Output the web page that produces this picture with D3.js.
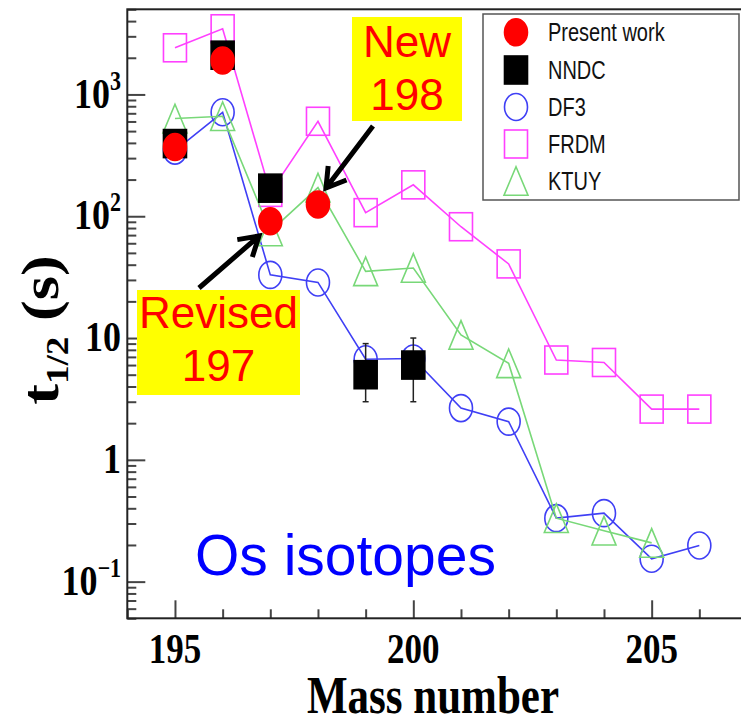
<!DOCTYPE html>
<html><head><meta charset="utf-8">
<script src="https://cdn.jsdelivr.net/npm/d3@7"></script>
<style>body{margin:0;background:#fff;overflow:hidden}</style>
</head><body><svg id="c" width="741" height="725"></svg>
<script>
// ---- data ----
const massNumbers = [195,196,197,198,199,200,201,202,203,204,205,206];
const presentWorkA = [195,196,197,198];
const presentWorkT = [370,1900,91,125];
const nndcA = [195,196,197,199,200];
const nndcT = [395,2100,170,5,6];
const nndcLo = [null,null,null,3,3];
const nndcHi = [null,null,null,9,10];
const df3T  = [346,714,33,28.6,6.7,6.8,2.66,2.06,0.332,0.365,0.154,0.198];
const frdmT = [2415,3460,157,602,107,181,82,40.6,6.6,6.3,2.61,2.61];
const ktuyA = [195,196,197,198,199,200,201,202,203,204,205];
const ktuyT = [634,662,75,172,35.3,37.6,10.6,6.2,0.332,0.262,0.208];
const xMajorTicks = [195,200,205];
const yMajorTicks = [0.1,1,10,100,1000];
const yTickLabels = [["10","\u22121"],["1",null],["10",null],["10","2"],["10","3"]];
const legendLabels = ["Present work","NNDC","DF3","FRDM","KTUY"];

// ---- setup ----
const svg = d3.select("#c");
const L=127.3, R=747, T=9.3, B=618.3;
const x = d3.scaleLinear().domain([194,207]).range([L,R]);
const y = d3.scaleLog().domain([0.05,5000]).range([B,T]);
const colDF3="#3f3ff5", colFRDM="#ff40ff", colKTUY="#78d878";
const SY=1.2;

// minor ticks
const yMinor=[];
for(let e=-2;e<=3;e++) for(let m=2;m<=9;m++){const v=m*Math.pow(10,e); if(v>=0.05&&v<=5000) yMinor.push(v);}
const xMinor = d3.range(194,208).filter(v=>!xMajorTicks.includes(v));

function styleAxis(g){g.select(".domain").remove(); g.selectAll("line").attr("stroke","#444").attr("stroke-width",2); g.selectAll("text").remove();}
svg.append("g").attr("transform",`translate(${L},0)`).call(d3.axisLeft(y).tickValues(yMajorTicks).tickSize(-18)).call(styleAxis);
svg.append("g").attr("transform",`translate(${L},0)`).call(d3.axisLeft(y).tickValues(yMinor).tickSize(-9)).call(styleAxis);
svg.append("g").attr("transform",`translate(0,${B})`).call(d3.axisBottom(x).tickValues(xMajorTicks).tickSize(-18)).call(styleAxis);
svg.append("g").attr("transform",`translate(0,${B})`).call(d3.axisBottom(x).tickValues(xMinor).tickSize(-9)).call(styleAxis);

// frame
svg.append("rect").attr("x",L).attr("y",T).attr("width",R-L).attr("height",B-T).attr("fill","none").attr("stroke","#222").attr("stroke-width",2);

// y tick labels
yMajorTicks.forEach((v,i)=>{
  const g=svg.append("g").attr("transform",`translate(121,${y(v)}) scale(1,${SY})`);
  const t=g.append("text").attr("text-anchor","end").attr("y",11)
    .attr("font-family","Liberation Serif, Times New Roman, serif").attr("font-weight","bold").attr("font-size",36).attr("fill","#000");
  t.append("tspan").text(yTickLabels[i][0]);
  if(yTickLabels[i][1]) t.append("tspan").attr("font-size",22).attr("dy",-15).text(yTickLabels[i][1]);
});
// x tick labels
xMajorTicks.forEach(v=>{
  svg.append("g").attr("transform",`translate(${x(v)},663) scale(1,${SY})`)
    .append("text").attr("text-anchor","middle").attr("font-family","Liberation Serif, Times New Roman, serif")
    .attr("font-weight","bold").attr("font-size",35).text(v);
});
// axis titles
svg.append("g").attr("transform",`translate(433,713) scale(1,1.22)`)
  .append("text").attr("text-anchor","middle").attr("font-family","Liberation Serif, Times New Roman, serif")
  .attr("font-weight","bold").attr("font-size",43).text("Mass number");
{
  const t=svg.append("g").attr("transform",`translate(58,330) scale(1,${SY}) rotate(-90)`)
    .append("text").attr("text-anchor","middle").attr("font-family","Liberation Serif, Times New Roman, serif")
    .attr("font-weight","bold").attr("font-size",52);
  t.append("tspan").text("t");
  t.append("tspan").attr("font-size",31).attr("dy",10).text("1/2");
  t.append("tspan").attr("dy",-10).text(" (s)");
}

// ---- series ----
const line=d3.line().x(d=>x(d[0])).y(d=>y(d[1]));
const df3=massNumbers.map((a,i)=>[a,df3T[i]]);
const frdm=massNumbers.map((a,i)=>[a,frdmT[i]]);
const ktuy=ktuyA.map((a,i)=>[a,ktuyT[i]]);
const nndc=nndcA.map((a,i)=>({a,t:nndcT[i],lo:nndcLo[i],hi:nndcHi[i]}));
const pw=presentWorkA.map((a,i)=>[a,presentWorkT[i]]);

function circleM(g,cx,cy,stroke,fill){g.append("ellipse").attr("cx",cx).attr("cy",cy).attr("rx",11.5).attr("ry",13.5).attr("fill",fill).attr("stroke",stroke).attr("stroke-width",1.6);}
function squareM(g,cx,cy,stroke,fill){g.append("rect").attr("x",cx-11.5).attr("y",cy-14).attr("width",23).attr("height",28).attr("fill",fill).attr("stroke",stroke).attr("stroke-width",1.6);}
function triM(g,cx,cy,stroke){g.append("path").attr("d",`M${cx},${cy-14.3}L${cx+12},${cy+14.3}L${cx-12},${cy+14.3}Z`).attr("fill","none").attr("stroke",stroke).attr("stroke-width",1.6);}

const gDF3=svg.append("g");
gDF3.append("path").attr("d",line(df3)).attr("fill","none").attr("stroke",colDF3).attr("stroke-width",1.6);
df3.forEach(d=>circleM(gDF3,x(d[0]),y(d[1]),colDF3,"none"));
const gFR=svg.append("g");
gFR.append("path").attr("d",line(frdm)).attr("fill","none").attr("stroke",colFRDM).attr("stroke-width",1.6);
frdm.forEach(d=>squareM(gFR,x(d[0]),y(d[1]),colFRDM,"none"));
const gKT=svg.append("g");
gKT.append("path").attr("d",line(ktuy)).attr("fill","none").attr("stroke",colKTUY).attr("stroke-width",1.6);
ktuy.forEach(d=>triM(gKT,x(d[0]),y(d[1]),colKTUY));
const gNN=svg.append("g");
nndc.forEach(d=>{
  if(d.lo!=null){
    const cx=x(d.a);
    gNN.append("line").attr("x1",cx).attr("x2",cx).attr("y1",y(d.hi)).attr("y2",y(d.lo)).attr("stroke","#222").attr("stroke-width",1.5);
    [d.hi,d.lo].forEach(v=>gNN.append("line").attr("x1",cx-3).attr("x2",cx+3).attr("y1",y(v)).attr("y2",y(v)).attr("stroke","#222").attr("stroke-width",1.5));
  }
  squareM(gNN,x(d.a),y(d.t),"#000","#000");
});
const gPW=svg.append("g");
pw.forEach(d=>circleM(gPW,x(d[0]),y(d[1]),"#ff0000","#ff0000"));

// ---- legend ----
const lg=svg.append("g");
lg.append("rect").attr("x",483).attr("y",14).attr("width",256).attr("height",186).attr("fill","#fff").attr("stroke","#555").attr("stroke-width",1.5);
const rows=[32.3,70,107,144,181];
circleM(lg,516,rows[0],"#ff0000","#ff0000");
squareM(lg,516,rows[1],"#000","#000");
circleM(lg,516,rows[2],colDF3,"none");
squareM(lg,516,rows[3],colFRDM,"none");
triM(lg,516,rows[4],colKTUY);
legendLabels.forEach((s,i)=>{
  lg.append("g").attr("transform",`translate(548,${rows[i]}) scale(1,1.25)`)
    .append("text").attr("y",7).attr("font-family","Liberation Sans, Arial, sans-serif").attr("font-size",20).attr("fill","#111").text(s);
});

// ---- annotations ----
const ann=svg.append("g");
function box(x0,y0,w,h,lines,bl){
  ann.append("rect").attr("x",x0).attr("y",y0).attr("width",w).attr("height",h).attr("fill","#ffff00");
  lines.forEach((s,i)=>ann.append("text").attr("x",x0+w/2).attr("y",bl[i]).attr("text-anchor","middle")
    .attr("font-family","Liberation Sans, Arial, sans-serif").attr("font-size",44).attr("fill","#ff0000").text(s));
}
box(352,17,110,104,["New","198"],[57,110]);
box(137,290,163,105,["Revised","197"],[328,381]);
function arrow(x1,y1,x2,y2){
  const a=Math.atan2(y2-y1,x2-x1), h=22, sp=0.55;
  const p1=[x2-h*Math.cos(a-sp),y2-h*Math.sin(a-sp)], p2=[x2-h*Math.cos(a+sp),y2-h*Math.sin(a+sp)];
  ann.append("path").attr("d",`M${x1},${y1}L${x2},${y2}M${p1}L${x2},${y2}L${p2}`).attr("fill","none").attr("stroke","#000").attr("stroke-width",5).attr("stroke-linejoin","miter");
}
arrow(373,126,326,188);
arrow(199,288,259,236);
ann.append("text").attr("x",195).attr("y",575).attr("font-family","Liberation Sans, Arial, sans-serif").attr("font-size",57).attr("fill","#0000ff").text("Os isotopes");
</script></body></html>
